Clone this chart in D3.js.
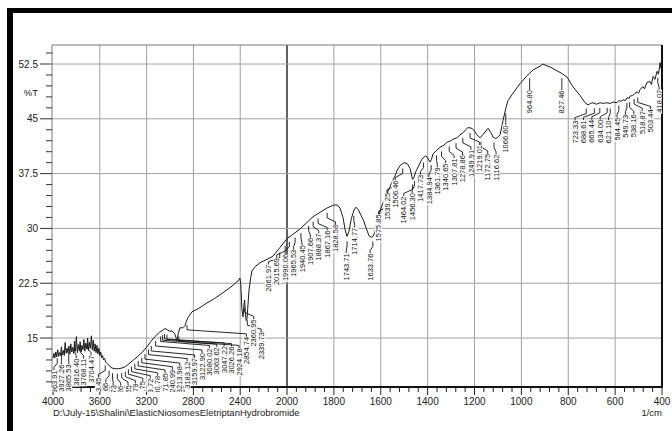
<!DOCTYPE html>
<html>
<head>
<meta charset="utf-8">
<script src="https://cdn.jsdelivr.net/npm/d3@7"></script>
<style>
  body { margin: 0; background: #fff; }
  svg { display: block; font-family: "Liberation Sans", Arial, sans-serif; }
</style>
</head>
<body>
<div id="irSpectrum"></div>
<script>
// trace: wavenumber (1/cm) and %T
const wavenumbers = [
  4000, 3992, 3984, 3976, 3968, 3960, 3952, 3944, 3936, 3928, 3920, 3912, 3904, 3896, 3888, 3880,
  3872, 3864, 3856, 3848, 3840, 3832, 3824, 3816, 3808, 3800, 3792, 3784, 3776, 3768, 3760, 3752,
  3744, 3736, 3728, 3720, 3712, 3704, 3696, 3688, 3680, 3672, 3664, 3656, 3648, 3640, 3632, 3624,
  3616, 3608, 3600, 3592, 3584, 3576, 3568, 3560, 3548, 3536, 3520, 3496, 3470, 3440, 3410, 3380,
  3350, 3320, 3282, 3240, 3197, 3160, 3128, 3090, 3060, 3043, 3020, 3000, 2983, 2960, 2945, 2940,
  2930, 2915, 2890, 2872, 2860, 2846, 2812, 2760, 2684, 2620, 2547, 2470, 2420, 2402, 2395, 2386,
  2376, 2368, 2362, 2356, 2349, 2342, 2336, 2325, 2310, 2299, 2270, 2231, 2180, 2120, 2060, 2000,
  1945, 1889, 1829, 1800, 1785, 1774, 1761, 1752, 1744, 1736, 1725, 1714, 1706, 1696, 1689, 1675,
  1662, 1650, 1641, 1633, 1625, 1616, 1603, 1590, 1575, 1569, 1548, 1539, 1531, 1518, 1506, 1497,
  1485, 1475, 1464, 1458, 1450, 1441, 1424, 1410, 1403, 1390, 1384, 1377, 1361, 1347, 1330, 1317,
  1300, 1292, 1275, 1262, 1249, 1238, 1228, 1211, 1200, 1189, 1176, 1165, 1155, 1142, 1130, 1121,
  1110, 1104, 1091, 1078, 1066, 1057, 1036, 1006, 976, 950, 920, 908, 895, 878, 844, 827,
  805, 780, 750, 728, 716, 705, 694, 680, 664, 650, 635, 621, 609, 592, 584, 575,
  566, 556, 549, 540, 536, 525, 518, 506, 500, 494, 481, 475, 464, 451, 445, 438,
  430, 421, 415, 408, 404, 400
];
const transmittance = [
  12.2, 12.9, 12.3, 13.1, 12.4, 13.4, 12.5, 13.0, 12.6, 13.8, 12.7, 13.3, 12.6, 14.4, 12.9, 13.6,
  13.0, 13.9, 12.8, 14.2, 13.1, 13.7, 12.9, 14.6, 13.2, 15.2, 13.0, 14.1, 13.3, 14.5, 13.1, 14.0,
  13.4, 14.8, 13.2, 14.3, 13.5, 15.0, 13.3, 14.4, 13.6, 15.3, 13.4, 14.7, 13.2, 14.2, 13.0, 14.0,
  12.8, 13.6, 12.6, 13.1, 12.3, 12.6, 12.0, 12.2, 11.7, 11.5, 11.2, 10.9, 10.8, 10.8, 10.9, 11.1,
  11.5, 11.9, 12.4, 13.0, 13.8, 14.6, 15.2, 15.8, 16.1, 16.3, 16.1, 15.9, 16.0, 15.6, 14.9, 14.7,
  15.6, 16.4, 16.4, 16.7, 17.3, 17.8, 18.6, 19.0, 19.8, 20.4, 21.2, 22.1, 22.8, 23.2, 22.4, 19.0,
  17.9, 19.6, 20.2, 18.3, 17.4, 17.6, 19.0, 21.5, 23.3, 24.2, 24.8, 25.3, 25.7, 26.2, 27.4, 28.6,
  29.9, 31.6, 32.8, 33.2, 33.2, 32.8, 31.5, 29.8, 28.9, 29.6, 31.4, 32.5, 32.9, 32.6, 32.1, 31.2,
  30.0, 29.0, 28.8, 28.9, 29.5, 30.5, 32.4, 33.5, 34.3, 35.1, 36.6, 37.2, 37.9, 38.6, 38.9, 39.0,
  38.8, 38.2, 36.7, 37.0, 37.8, 38.4, 39.5, 39.9, 39.8, 39.1, 39.4, 40.2, 40.7, 41.1, 41.4, 41.8,
  42.0, 42.2, 42.4, 42.8, 43.1, 43.5, 43.8, 43.7, 43.3, 42.8, 42.4, 42.8, 43.2, 43.7, 43.1, 42.5,
  42.3, 42.4, 42.8, 44.8, 46.5, 47.5, 48.5, 49.8, 50.9, 51.7, 52.2, 52.5, 52.3, 52.1, 51.5, 51.2,
  50.7, 49.4, 48.2, 47.2, 46.9, 47.1, 47.2, 47.0, 47.2, 47.1, 47.2, 47.1, 47.3, 47.2, 47.5, 47.4,
  47.6, 47.5, 47.9, 47.8, 48.1, 48.2, 48.4, 48.7, 48.5, 49.0, 49.4, 49.1, 50.0, 50.1, 49.7, 50.8,
  50.4, 51.5, 51.1, 52.7, 51.9, 53.1
];

// peak picks printed under the trace
const peaksHighRange = [
  3963.91, 3927.26, 3865.53, 3816.40, 3768.11, 3704.47,
  3553.45, 3520.66, 3491.73, 3450.26, 3412.65, 3381.79, 3355.75, 3329.72,
  3300.78, 3271.85, 3240.99, 3213.98, 3183.12, 3159.97,
  3122.90, 3080.02, 3063.62, 3047.22, 3026.26, 2924.18, 2854.74,
  2360.95, 2339.73
];
const peaksLowRange = [
  2061.97, 2015.69, 1990.06, 1965.53, 1940.45, 1907.66, 1888.37, 1867.16, 1828.58,
  1743.71, 1714.77, 1633.76, 1575.85, 1539.25, 1506.46, 1464.02, 1456.30, 1417.73,
  1384.94, 1361.79, 1340.65, 1307.81, 1278.86, 1249.91, 1219.01, 1172.75, 1116.62, 1066.60,
  964.80, 827.46, 723.33, 688.61, 665.44, 634.00, 621.10, 584.45, 549.73, 538.16,
  518.87, 503.44, 418.07
];

const xMajorTicks = [4000, 3600, 3200, 2800, 2400, 2000, 1800, 1600, 1400, 1200, 1000, 800, 600, 400];
const yMajorTicks = [15, 22.5, 30, 37.5, 45, 52.5];
const yUnit = '%T';
const xUnit = '1/cm';
const filePath = 'D:\\July-15\\Shalini\\ElasticNiosomesEletriptanHydrobromide';

const width = 672, height = 431;
const plot = { left: 52, right: 662, top: 45, bottom: 387 };

const svg = d3.select('#irSpectrum')
  .append('svg')
  .attr('width', width)
  .attr('height', height);

svg.append('rect').attr('width', width).attr('height', height).attr('fill', '#fff');

// the 4000-2000 half is drawn at half scale, like the instrument printout
const x = d3.scaleLinear()
  .domain([4000, 2000, 400])
  .range([plot.left + 1, 287, plot.right]);
const y = d3.scaleLinear()
  .domain([8.3, 55.1])
  .range([plot.bottom, plot.top]);

// grid
svg.append('g')
  .selectAll('line')
  .data(xMajorTicks.filter(d => d !== 4000 && d !== 400))
  .enter()
  .append('line')
  .attr('x1', d => x(d)).attr('x2', d => x(d))
  .attr('y1', plot.top).attr('y2', plot.bottom)
  .attr('stroke', d => d === 2000 ? '#3a3a3a' : '#a0a0a0')
  .attr('stroke-width', d => d === 2000 ? 1.6 : 1);

svg.append('g')
  .selectAll('line')
  .data(yMajorTicks)
  .enter()
  .append('line')
  .attr('x1', plot.left).attr('x2', plot.right)
  .attr('y1', d => y(d)).attr('y2', d => y(d))
  .attr('stroke', '#a0a0a0');

svg.append('path')
  .attr('d', `M${plot.left},${plot.bottom}V${plot.top}H${plot.right}`)
  .attr('fill', 'none')
  .attr('stroke', '#777');

// x axis
const xMinor = d3.range(4000, 2000, -80).concat(d3.range(2000, 399, -40));
svg.append('g')
  .selectAll('line')
  .data(xMinor)
  .enter()
  .append('line')
  .attr('x1', d => x(d)).attr('x2', d => x(d))
  .attr('y1', plot.bottom)
  .attr('y2', d => xMajorTicks.includes(d) ? plot.bottom + 8 : plot.bottom + 5)
  .attr('stroke', '#222');

svg.append('g')
  .selectAll('text')
  .data(xMajorTicks)
  .enter()
  .append('text')
  .attr('x', d => x(d))
  .attr('y', 405)
  .attr('text-anchor', 'middle')
  .attr('font-size', 10)
  .attr('fill', '#222')
  .text(d => d);

// y axis
const yMinor = d3.range(9, 55, 1.5);
svg.append('g')
  .selectAll('line')
  .data(yMinor)
  .enter()
  .append('line')
  .attr('x1', d => yMajorTicks.includes(d) ? plot.left - 12 : plot.left - 6)
  .attr('x2', plot.left)
  .attr('y1', d => y(d)).attr('y2', d => y(d))
  .attr('stroke', '#333');

svg.append('g')
  .selectAll('text')
  .data(yMajorTicks)
  .enter()
  .append('text')
  .attr('x', 38)
  .attr('y', d => y(d))
  .attr('dy', '0.35em')
  .attr('text-anchor', 'end')
  .attr('font-size', 10)
  .attr('fill', '#222')
  .text(d => d);

svg.append('text')
  .attr('x', 38).attr('y', 93)
  .attr('dy', '0.35em')
  .attr('text-anchor', 'end')
  .attr('font-size', 9.5)
  .attr('fill', '#222')
  .text(yUnit);

// trace
const trace = d3.zip(wavenumbers, transmittance);
svg.append('path')
  .datum(trace)
  .attr('d', d3.line().x(d => x(d[0])).y(d => y(d[1])))
  .attr('fill', 'none')
  .attr('stroke', '#1a1a1a')
  .attr('stroke-width', 1);

svg.append('line')
  .attr('x1', plot.left).attr('x2', plot.right + 1)
  .attr('y1', plot.bottom).attr('y2', plot.bottom)
  .attr('stroke', '#111').attr('stroke-width', 2);
svg.append('line')
  .attr('x1', plot.right).attr('x2', plot.right)
  .attr('y1', plot.top).attr('y2', plot.bottom)
  .attr('stroke', '#111').attr('stroke-width', 2);

// %T on the trace at a given wavenumber
function traceAt(wn) {
  for (let i = 0; i < wavenumbers.length - 1; i++) {
    if (wn <= wavenumbers[i] && wn >= wavenumbers[i + 1]) {
      const t = (wavenumbers[i] - wn) / (wavenumbers[i] - wavenumbers[i + 1]);
      return transmittance[i] + t * (transmittance[i + 1] - transmittance[i]);
    }
  }
  return transmittance[transmittance.length - 1];
}

// push labels apart so the vertical texts don't overlap
function spread(targets, gap, lo, hi) {
  let groups = targets.map((t, i) => ({ idx: [i], sum: t }));
  const start = g => {
    const n = g.idx.length;
    const s = g.sum / n - (n - 1) * gap / 2;
    return Math.max(lo, Math.min(hi - (n - 1) * gap, s));
  };
  let merged = true;
  while (merged) {
    merged = false;
    for (let i = 0; i < groups.length - 1; i++) {
      const a = groups[i], b = groups[i + 1];
      if (start(a) + a.idx.length * gap > start(b)) {
        groups.splice(i, 2, { idx: a.idx.concat(b.idx), sum: a.sum + b.sum });
        merged = true;
        break;
      }
    }
  }
  const out = [];
  groups.forEach(g => {
    const s = start(g);
    g.idx.forEach((k, j) => { out[k] = s + j * gap; });
  });
  return out;
}

function layoutPeaks(list, gap) {
  const px = list.map(d => x(d));
  const lx = spread(px, gap, plot.left + 2, plot.right - 3);
  return list.map((d, i) => {
    const py = y(traceAt(d));
    return { wn: d, px: px[i], py: py, lx: lx[i], ty: py + 17 };
  });
}

const peaks = layoutPeaks(peaksHighRange, 7.4).concat(layoutPeaks(peaksLowRange, 8.4));

svg.append('clipPath').attr('id', 'labelClip')
  .append('rect')
  .attr('x', plot.left).attr('y', plot.top)
  .attr('width', plot.right - plot.left).attr('height', plot.bottom - plot.top + 5);

const labels = svg.append('g').attr('clip-path', 'url(#labelClip)');

labels.append('g')
  .selectAll('path')
  .data(peaks)
  .enter()
  .append('path')
  .attr('d', d => `M${d.px},${d.py + 5}V${d.ty - 7}L${d.lx},${d.ty - 3}V${d.ty}`)
  .attr('fill', 'none')
  .attr('stroke', '#111')
  .attr('stroke-width', 0.9);

const fmt = d3.format('.2f');
const tags = labels.append('g')
  .selectAll('g')
  .data(peaks)
  .enter()
  .append('g')
  .attr('transform', d => `translate(${d.lx},${d.ty}) rotate(-90)`);

tags.append('text')
  .attr('text-anchor', 'end')
  .attr('dy', '0.35em')
  .attr('font-size', 7.5)
  .attr('fill', '#111')
  .text(d => fmt(d.wn));

tags.each(function () {
  const g = d3.select(this);
  const len = g.select('text').node().getComputedTextLength();
  g.insert('rect', 'text')
    .attr('x', -len - 1).attr('y', -3.6)
    .attr('width', len + 1).attr('height', 7.2)
    .attr('fill', '#fff');
});

// footer
svg.append('text')
  .attr('x', 53).attr('y', 416)
  .attr('font-size', 9.5)
  .attr('fill', '#222')
  .text(filePath);
svg.append('text')
  .attr('x', plot.right).attr('y', 416)
  .attr('text-anchor', 'end')
  .attr('font-size', 9.5)
  .attr('fill', '#222')
  .text(xUnit);

// black frame of the screenshot
svg.append('rect').attr('x', 7).attr('y', 8).attr('width', width - 7).attr('height', 5).attr('fill', '#000');
svg.append('rect').attr('x', 7).attr('y', 8).attr('width', 6).attr('height', height - 8).attr('fill', '#000');
</script>
</body>
</html>
